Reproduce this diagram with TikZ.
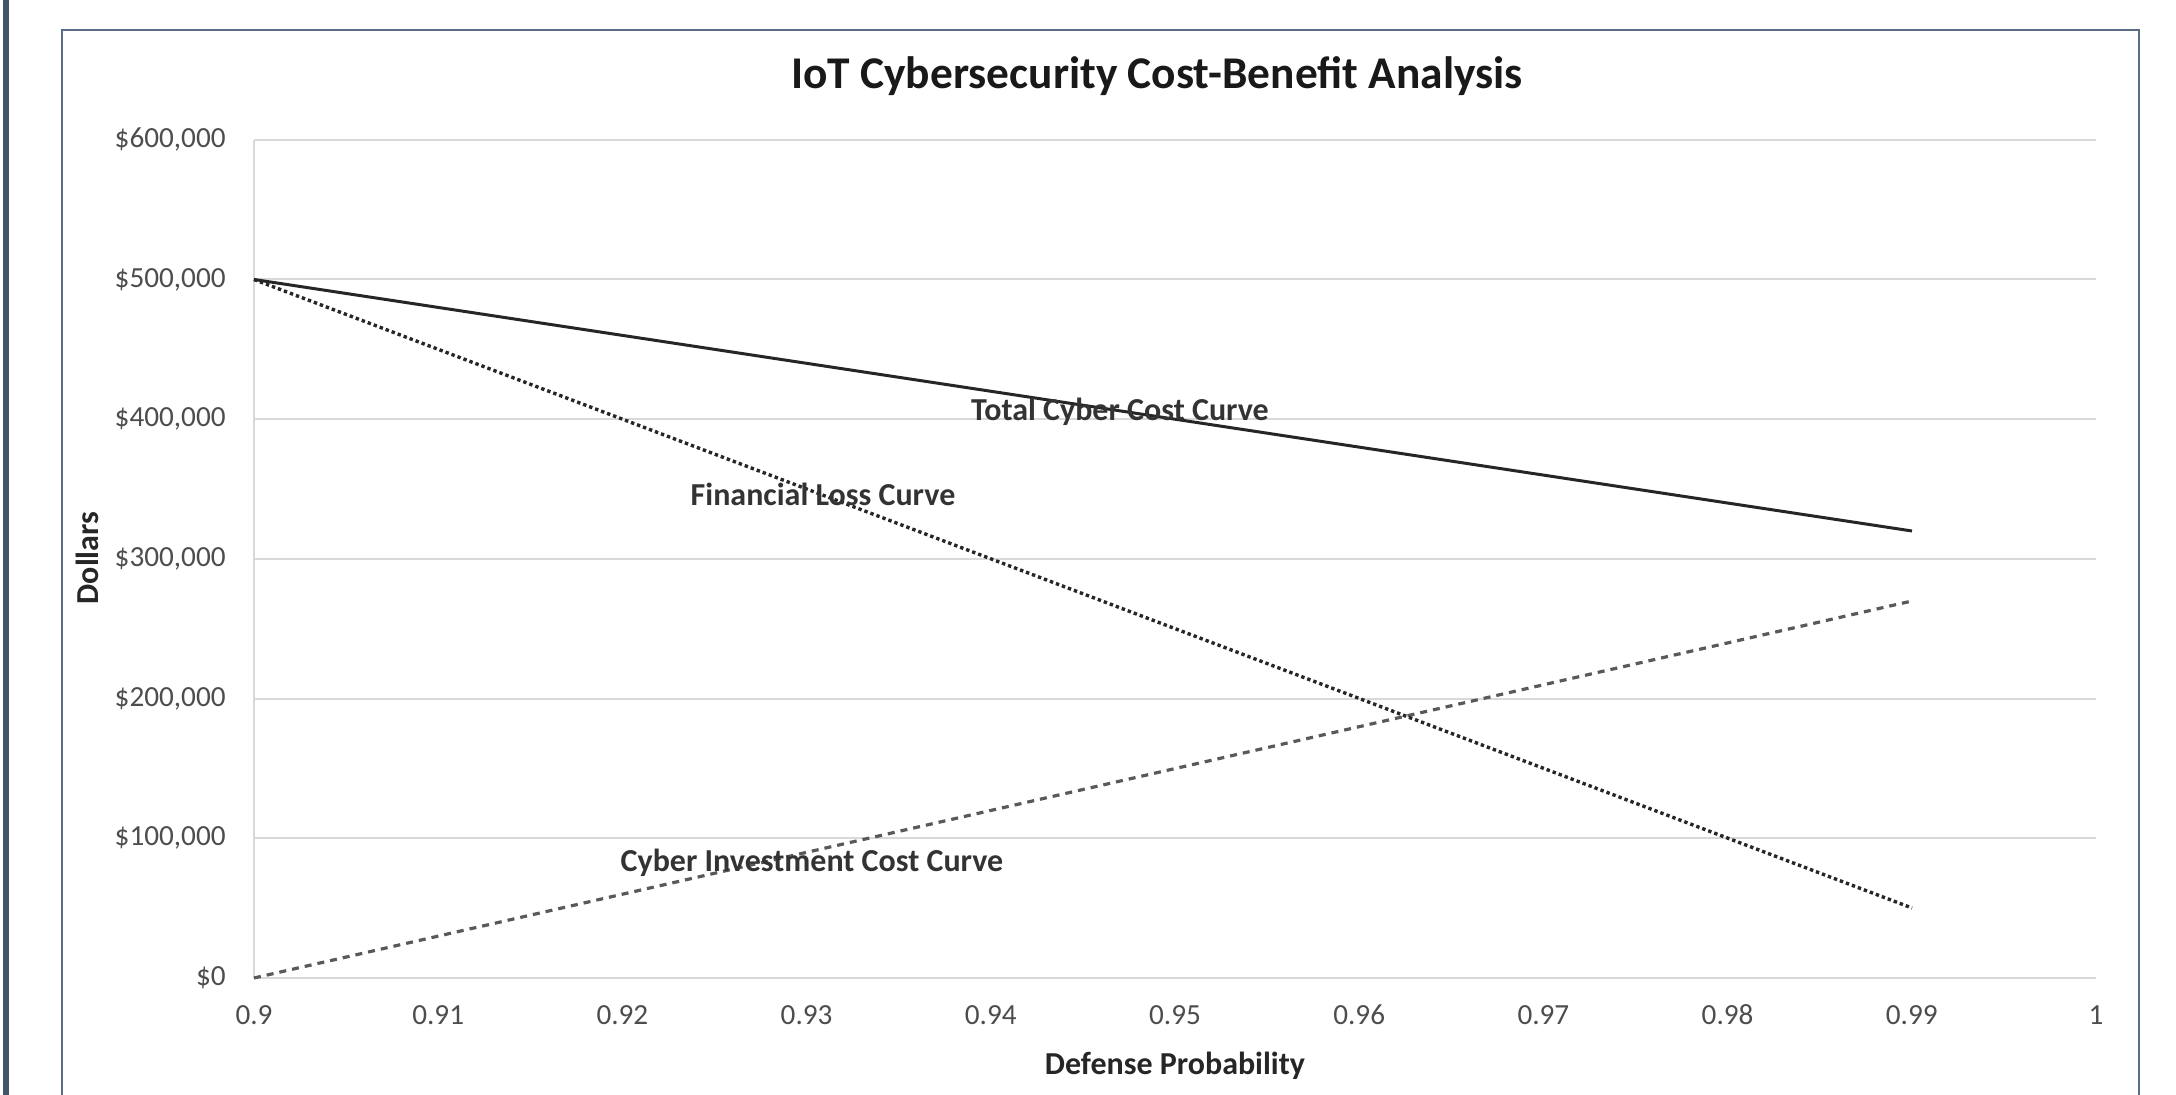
\documentclass[tikz,border=0pt]{standalone}
\usepackage{fontspec}
\setmainfont{Carlito}
\usepackage{tikz}
\definecolor{slate}{HTML}{44546A}
\definecolor{framegray}{HTML}{5B6B84}
\definecolor{gridgray}{HTML}{D9D9D9}
\definecolor{ticktext}{HTML}{4D4D4D}
\tikzset{
		tick label/.style={font=\fontsize{14.6}{16}\selectfont, text=ticktext, inner sep=0pt},
		axis title/.style={font=\fontsize{16}{18}\selectfont\bfseries, text=black!85, inner sep=0pt},
		chart title/.style={font=\fontsize{22.7}{26}\selectfont\bfseries, text=black!90, inner sep=0pt},
		curve label/.style={font=\fontsize{16}{18}\selectfont\bfseries, text=black!80, inner sep=0pt},
		grid line/.style={draw=gridgray, line width=1pt},
		total curve/.style={black!85, line width=1.5pt},
		loss curve/.style={black!85, line width=1.7pt, dash pattern=on 1.7pt off 1.5pt},
		invest curve/.style={black!65, line width=1.6pt, dash pattern=on 3.5pt off 3pt}
	}
\begin{document}
\begin{tikzpicture}[x=0.5pt, y=-0.5pt]
		\useasboundingbox (0,0) rectangle (2176,1095);
		\fill[slate] (3,0) rectangle (9,1095);
		\draw[framegray, line width=1pt] (62,1110) -- (62,30) -- (2139,30) -- (2139,1110);

		% grid and axes
		\foreach \v in {1,...,6} {
			\draw[grid line] (254,978-139.7*\v) -- (2096,978-139.7*\v);
			\node[tick label, anchor=east] at (226,978-139.7*\v) {\$\v00,000};
		}
		\draw[grid line] (254,978) -- (2096,978);
		\draw[grid line] (254,140) -- (254,978);
		\node[tick label, anchor=east] (y0) at (226,978) {\$0};
		\foreach \p [count=\i from 0] in {0.9,0.91,0.92,0.93,0.94,0.95,0.96,0.97,0.98,0.99,1}
			\node[tick label] at (254+184.2*\i,1015) {\p};

		\node[chart title]          (title) at (1157,76)  {IoT Cybersecurity Cost-Benefit Analysis};
		\node[axis title, rotate=90] (ylab)  at (87,558)   {Dollars};
		\node[axis title]            (xlab)  at (1175,1066) {Defense Probability};

		% curves
		\coordinate (tot0) at (254,279.5);
		\coordinate (tot1) at (1912,531);
		\coordinate (fin0) at (254,279.5);
		\coordinate (fin1) at (1912,908);
		\coordinate (inv0) at (254,978);
		\coordinate (inv1) at (1912,601);

		\draw[invest curve] (inv0) -- (inv1);
		\draw[loss curve]   (fin0) -- (fin1);
		\draw[total curve]  (tot0) -- (tot1);

		\node[curve label] (totlab) at (1120,412) {Total Cyber Cost Curve};
		\node[curve label] (finlab) at (823,494)  {Financial Loss Curve};
		\node[curve label] (invlab) at (812,863)  {Cyber Investment Cost Curve};
	\end{tikzpicture}
\end{document}
